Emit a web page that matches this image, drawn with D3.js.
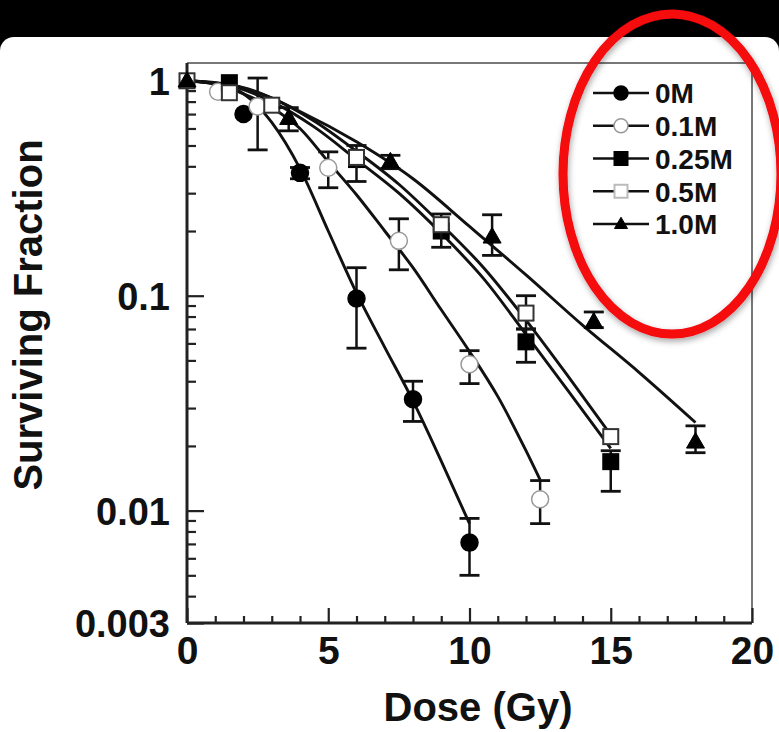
<!DOCTYPE html>
<html>
<head>
<meta charset="utf-8">
<script src="https://cdn.jsdelivr.net/npm/d3@7"></script>
<style>
  html, body { margin: 0; padding: 0; background: #000; }
  svg text { font-family: "Liberation Sans", Arial, sans-serif; font-weight: bold; fill: #111; }
</style>
</head>
<body>
<div id="chart"></div>
<script>
// series names (legend order)
const seriesNames = ["0M", "0.1M", "0.25M", "0.5M", "1.0M"];

// measured points: [dose, surviving fraction, error low, error high]
const pts0M = [[2, 0.70, null, null], [4, 0.373, 0.35, 0.395], [6, 0.097, 0.057, 0.135], [8, 0.033, 0.026, 0.040], [10, 0.0071, 0.005, 0.0092]];
const pts01M = [[1.1, 0.89, null, null], [2.5, 0.76, 0.477, 1.03], [5, 0.394, 0.318, 0.467], [7.5, 0.18, 0.132, 0.228], [10, 0.048, 0.039, 0.0555], [12.5, 0.0113, 0.0087, 0.0138]];
const pts025M = [[1.5, 0.98, null, null], [6, 0.43, null, null], [9, 0.20, null, null], [12, 0.061, 0.049, 0.07], [15, 0.0169, 0.0123, 0.019]];
const pts05M = [[0, 1, null, null], [1.5, 0.88, null, null], [3, 0.77, null, null], [6, 0.44, 0.34, 0.5], [9, 0.214, 0.168, 0.24], [12, 0.083, 0.07, 0.1], [15, 0.0221, null, null]];
const pts1M = [[0, 1, null, null], [3.6, 0.67, 0.585, 0.75], [7.2, 0.42, 0.39, 0.45], [10.8, 0.188, 0.154, 0.238], [14.4, 0.0755, 0.071, 0.084], [18, 0.0209, 0.0186, 0.0248]];

// fitted curves: [dose, surviving fraction]
const fit0M = [[0, 1], [1, 0.966], [2, 0.871], [3, 0.64], [4, 0.39], [5, 0.2], [6, 0.103], [7, 0.0575], [8, 0.0324], [9, 0.017], [10, 0.0087]];
const fit01M = [[0, 1], [1, 0.965], [2, 0.87], [3, 0.75], [4, 0.6], [5, 0.42], [6, 0.295], [7, 0.2], [8, 0.135], [9, 0.086], [10, 0.055], [11, 0.034], [12, 0.019], [12.5, 0.0139]];
const fit025M = [[0, 1], [1.5, 0.95], [3, 0.8], [4.5, 0.61], [6, 0.43], [7.5, 0.3], [9, 0.195], [10.5, 0.12], [12, 0.066], [13.5, 0.036], [15, 0.0195]];
const fit05M = [[0, 1], [1.5, 0.96], [3, 0.83], [4.5, 0.65], [6, 0.47], [7.5, 0.33], [9, 0.215], [10.5, 0.135], [12, 0.077], [13.5, 0.042], [15, 0.0225]];
const fit1M = [[0, 1], [2, 0.93], [4, 0.72], [6, 0.52], [8, 0.35], [10, 0.21], [12, 0.125], [14, 0.073], [16, 0.044], [18, 0.0257]];

// axis ticks
const xTicks = [0, 5, 10, 15, 20];
const xMinorTicks = [1, 2, 3, 4, 6, 7, 8, 9, 11, 12, 13, 14, 16, 17, 18, 19];
const yTickLabels = [1, 0.1, 0.01, 0.003];
const yMinorTicks = [0.004, 0.005, 0.006, 0.007, 0.008, 0.009, 0.02, 0.03, 0.04, 0.05, 0.06, 0.07, 0.08, 0.09, 0.2, 0.3, 0.4, 0.5, 0.6, 0.7, 0.8, 0.9];

const W = 779, H = 732;
const margin = { top: 63, right: 27, bottom: 109, left: 187 };
const width = W - margin.left - margin.right;
const height = H - margin.top - margin.bottom;

const svg = d3.select("#chart").append("svg")
  .attr("width", W).attr("height", H);

const defs = svg.append("defs");
defs.append("filter").attr("id", "shadow").attr("x", "-20%").attr("y", "-20%").attr("width", "140%").attr("height", "140%")
  .append("feDropShadow").attr("dx", 1).attr("dy", 3).attr("stdDeviation", 3)
  .attr("flood-color", "#000").attr("flood-opacity", 0.35);

// black band + white panel
svg.append("rect").attr("width", W).attr("height", H).attr("fill", "#000");
svg.append("rect").attr("x", 0).attr("y", 37).attr("width", W).attr("height", H).attr("rx", 14).attr("fill", "#fff");

const g = svg.append("g").attr("transform", "translate(" + margin.left + "," + margin.top + ")");

const x = d3.scaleLinear().domain([0, 20]).range([0, width]);
const y = d3.scaleLog().domain([0.003, 1.21]).range([height, 0]);

// frame: top and right grey
g.append("line").attr("x1", 0).attr("x2", width).attr("y1", 0).attr("y2", 0).attr("stroke", "#777").attr("stroke-width", 2);
g.append("line").attr("x1", width).attr("x2", width).attr("y1", 0).attr("y2", height).attr("stroke", "#777").attr("stroke-width", 2);

// x axis minor + major
const xMinor = g.append("g").attr("transform", "translate(0," + height + ")")
  .call(d3.axisBottom(x).tickValues(xMinorTicks).tickSize(-7).tickFormat(""));
const xMajor = g.append("g").attr("transform", "translate(0," + height + ")")
  .call(d3.axisBottom(x).tickValues(xTicks).tickSize(-15).tickPadding(13).tickFormat(d3.format("d")));
xMajor.selectAll("text").attr("font-size", 39).attr("dy", "0.71em");

// y axis minor + major
const yMinor = g.append("g")
  .call(d3.axisLeft(y).tickValues(yMinorTicks).tickSize(-9).tickPadding(0).tickFormat(""));
const yMajor = g.append("g")
  .call(d3.axisLeft(y).tickValues(yTickLabels).tickSize(-17).tickPadding(17).tickFormat(d => String(d)));
yMajor.selectAll("text").attr("font-size", 38).attr("dy", "0.36em");

[xMinor, xMajor, yMinor, yMajor].forEach(a => {
  a.select(".domain").remove();
  a.selectAll("line").attr("stroke", "#222").attr("stroke-width", 2.2);
});

// main axes lines
g.append("line").attr("x1", 0).attr("x2", 0).attr("y1", 0).attr("y2", height).attr("stroke", "#222").attr("stroke-width", 3);
g.append("line").attr("x1", 0).attr("x2", width).attr("y1", height).attr("y2", height).attr("stroke", "#222").attr("stroke-width", 3);

// axis titles
svg.append("text").attr("x", 478).attr("y", 721).attr("text-anchor", "middle")
  .attr("font-size", 40).text("Dose (Gy)");
svg.append("text").attr("transform", "translate(42,315) rotate(-90)").attr("text-anchor", "middle")
  .attr("font-size", 40).text("Surviving Fraction");

const series = [
  { name: seriesNames[0], pts: pts0M, fit: fit0M, shape: "circle", fill: "#000", stroke: "#000" },
  { name: seriesNames[1], pts: pts01M, fit: fit01M, shape: "circle", fill: "#fff", stroke: "#999" },
  { name: seriesNames[2], pts: pts025M, fit: fit025M, shape: "square", fill: "#000", stroke: "#000" },
  { name: seriesNames[3], pts: pts05M, fit: fit05M, shape: "square", fill: "#fff", stroke: "#333" },
  { name: seriesNames[4], pts: pts1M, fit: fit1M, shape: "triangle", fill: "#000", stroke: "#000" }
];

const line = d3.line().x(d => x(d[0])).y(d => y(d[1])).curve(d3.curveMonotoneX);

// fitted curves
g.selectAll(".fit").data(series).enter().append("path")
  .attr("class", "fit")
  .attr("d", s => line(s.fit))
  .attr("fill", "none").attr("stroke", "#111").attr("stroke-width", 2.9);

function drawMarker(sel, s, cx, cy, size) {
  if (s.shape === "circle") {
    sel.append("circle").attr("cx", cx).attr("cy", cy).attr("r", size / 2)
      .attr("fill", s.fill).attr("stroke", s.stroke).attr("stroke-width", 1.5);
  } else if (s.shape === "square") {
    sel.append("rect").attr("x", cx - size / 2).attr("y", cy - size / 2).attr("width", size).attr("height", size)
      .attr("fill", s.fill).attr("stroke", s.stroke).attr("stroke-width", 2);
  } else {
    const h = size * 0.87;
    sel.append("path")
      .attr("d", "M" + cx + "," + (cy - h * 0.6) + "L" + (cx + size / 2) + "," + (cy + h * 0.4) + "L" + (cx - size / 2) + "," + (cy + h * 0.4) + "Z")
      .attr("fill", s.fill).attr("stroke", s.stroke).attr("stroke-width", 1);
  }
}

// error bars + markers per series
series.forEach(s => {
  const sg = g.append("g");
  s.pts.filter(p => p[2] != null).forEach(p => {
    const px = x(p[0]);
    sg.append("line").attr("x1", px).attr("x2", px).attr("y1", y(p[2])).attr("y2", y(p[3]))
      .attr("stroke", "#111").attr("stroke-width", 2.5);
    [p[2], p[3]].forEach(v => {
      sg.append("line").attr("x1", px - 10).attr("x2", px + 10).attr("y1", y(v)).attr("y2", y(v))
        .attr("stroke", "#111").attr("stroke-width", 2.8);
    });
  });
  s.pts.forEach(p => drawMarker(sg, s, x(p[0]), y(p[1]), s.shape === "circle" ? 17 : s.shape === "square" ? 15 : 18));
});

// legend
const legendY = d3.scalePoint().domain(seriesNames).range([93, 224]);
series.forEach(s => {
  const lg = svg.append("g");
  const ly = legendY(s.name);
  lg.append("line").attr("x1", 593).attr("x2", 649).attr("y1", ly).attr("y2", ly)
    .attr("stroke", "#111").attr("stroke-width", 2.6);
  const ls = s.name === "0.5M" ? Object.assign({}, s, { stroke: "#bbb" }) : s;
  drawMarker(lg, ls, 621, ly, s.shape === "circle" ? 14 : 13);
  lg.append("text").attr("x", 655).attr("y", ly).attr("dy", "0.37em")
    .attr("font-size", 28).text(s.name);
});

// red highlight ellipse
svg.append("ellipse").attr("cx", 672).attr("cy", 174).attr("rx", 109).attr("ry", 160)
  .attr("fill", "none").attr("stroke", "#f5070b").attr("stroke-width", 9)
  .attr("filter", "url(#shadow)");
</script>
</body>
</html>
